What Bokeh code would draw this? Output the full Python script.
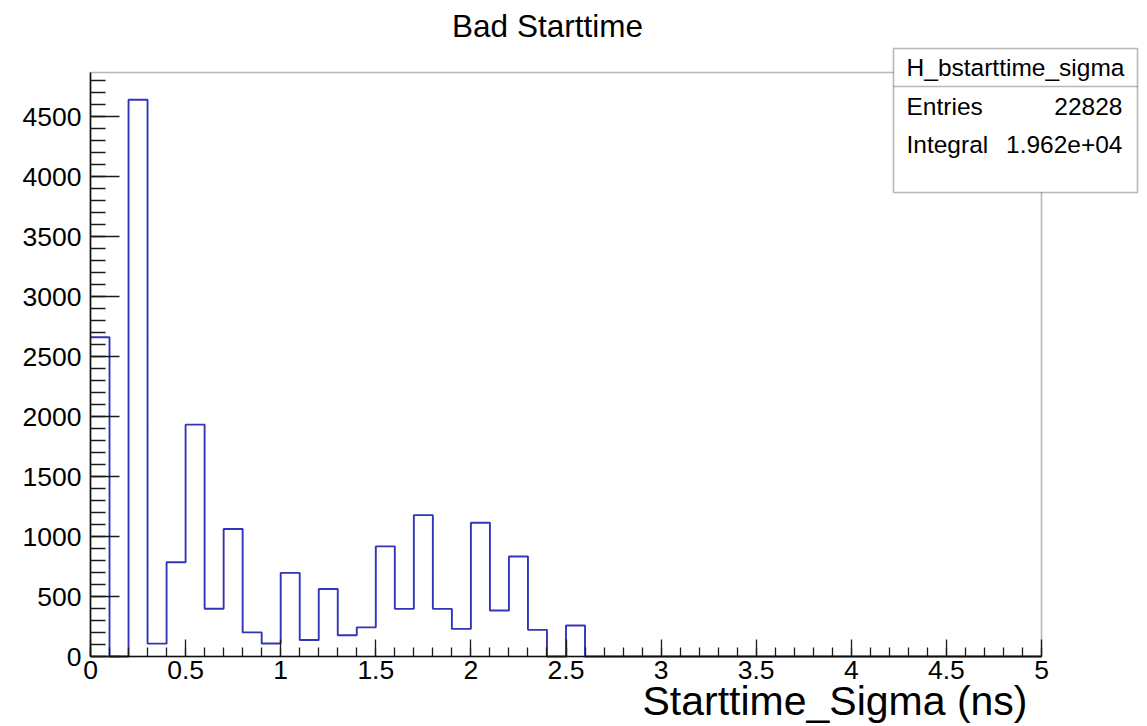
from bokeh.plotting import figure
from bokeh.models import (Range1d, SingleIntervalTicker, Label, PolyAnnotation,
                          LinearAxis)
from bokeh.embed import file_html
from bokeh.resources import INLINE

# ---- data ----
bin_width = 0.1
bin_edges = [round(i * bin_width, 1) for i in range(51)]
counts = [2660, 0, 4640, 107, 786, 1932, 398, 1062, 201, 108,
          697, 137, 562, 177, 243, 918, 397, 1178, 397, 230,
          1114, 383, 833, 222, 0, 258, 0, 0, 0, 0,
          0, 0, 0, 0, 0, 0, 0, 0, 0, 0,
          0, 0, 0, 0, 0, 0, 0, 0, 0, 0]
x_tick_values = [0, 0.5, 1, 1.5, 2, 2.5, 3, 3.5, 4, 4.5, 5]
x_tick_labels = ["0", "0.5", "1", "1.5", "2", "2.5", "3", "3.5", "4", "4.5", "5"]
hist_name = "H_bstarttime_sigma"
entries = 22828
integral = 1.962e4
title_text = "Bad Starttime"
x_title = "Starttime_Sigma (ns)"

FONT = "Liberation Sans"
W, H = 1147, 726
L, R, T, B = 90, 1041, 72, 656          # pixel box of the histogram axes
x0, x1 = 0.0, 5.0
y0, y1 = 0.0, 4866.7
xs_per_px = (x1 - x0) / (R - L)
ys_per_px = (y1 - y0) / (B - T)

def dx(px):
    return x0 + (px - L) * xs_per_px

def dy(py):
    return y0 + (B - py) * ys_per_px

# the plotting frame covers the whole canvas; axes are pinned at x=0 / y=0
p = figure(width=W, height=H, output_backend="svg", toolbar_location=None,
           x_range=Range1d(dx(0), dx(W)), y_range=Range1d(dy(H), dy(0)),
           x_axis_location=None, y_axis_location=None,
           min_border_left=0, min_border_right=0,
           min_border_top=0, min_border_bottom=0)
p.background_fill_color = "white"
p.border_fill_color = "white"
p.outline_line_color = None
p.grid.visible = False

# histogram outline
p.step(x=bin_edges, y=counts + [counts[-1]], mode="after",
       line_color="#3434b8", line_width=1.9)

# axes
xa = LinearAxis(fixed_location=y0, bounds=(x0, x1),
                ticker=SingleIntervalTicker(interval=0.5, num_minor_ticks=5))
xa.major_label_overrides = {v: s for v, s in zip(x_tick_values, x_tick_labels)}
xa.major_tick_in = 17
xa.major_tick_out = 0
xa.minor_tick_in = 9
xa.minor_tick_out = 0
xa.major_label_standoff = 4
ya = LinearAxis(fixed_location=x0, bounds=(y0, y1),
                ticker=SingleIntervalTicker(interval=500, num_minor_ticks=5))
ya.major_tick_in = 29
ya.major_tick_out = 0
ya.minor_tick_in = 15
ya.minor_tick_out = 0
ya.major_label_standoff = 9
for ax in (xa, ya):
    ax.axis_line_color = "#111111"
    ax.axis_line_width = 1.6
    ax.major_tick_line_color = "#1a1a1a"
    ax.minor_tick_line_color = "#1a1a1a"
    ax.major_tick_line_width = 1.3
    ax.minor_tick_line_width = 1.3
    ax.major_label_text_font = FONT
    ax.major_label_text_font_size = "26.5px"
    ax.major_label_text_color = "black"
p.add_layout(xa, "below")
p.add_layout(ya, "left")

# frame (top / right sides)
p.add_layout(PolyAnnotation(xs=[x0, x1, x1, x0], ys=[y0, y0, y1, y1],
                            fill_color=None, line_color="#111111", line_width=1.6))

def text(px, py, s, size, align):
    p.add_layout(Label(x=dx(px), y=dy(py), text=s, text_align=align,
                       text_baseline="middle", text_font=FONT,
                       text_font_size=size, text_color="black"))

# title and x-axis title
text(547, 25, title_text, "31.5px", "center")
text(1027, 700, x_title, "41px", "right")

# stats box
bx0, bx1, by0, by1, bsep = dx(893), dx(1137), dy(48), dy(192), dy(86)
p.add_layout(PolyAnnotation(xs=[bx0, bx1, bx1, bx0], ys=[by0, by0, by1, by1],
                            fill_color="white", fill_alpha=1.0,
                            line_color="#111111", line_width=1.6))
p.add_layout(PolyAnnotation(xs=[bx0, bx1], ys=[bsep, bsep], fill_color=None,
                            line_color="#111111", line_width=1.3))
text(1015, 67, hist_name, "24.5px", "center")
rows = [("Entries", f"{entries}", 105.5), ("Integral", f"{integral:.3e}", 143.5)]
for name, val, mid in rows:
    text(906, mid, name, "24.5px", "left")
    text(1122, mid, val, "24.5px", "right")

open("out.html", "w").write(file_html(p, INLINE))
